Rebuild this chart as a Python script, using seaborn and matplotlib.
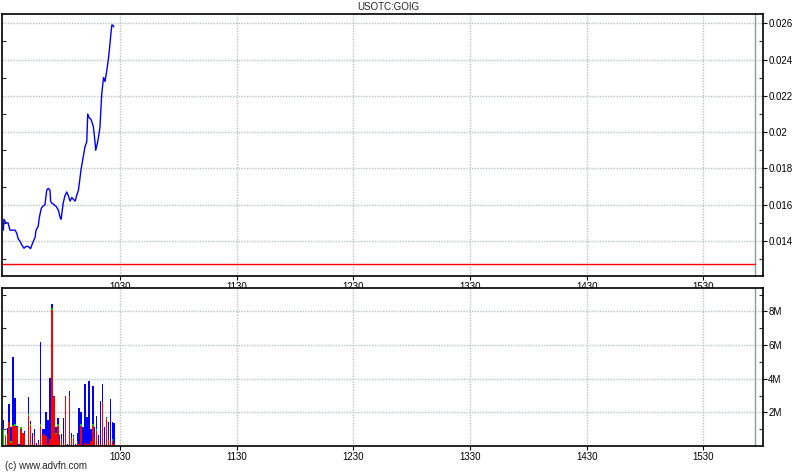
import matplotlib
matplotlib.use("Agg")
import matplotlib.pyplot as plt
from matplotlib.ticker import FixedLocator, FuncFormatter
import seaborn as sns

# intraday price, minutes after 09:30
price_minutes = [0.0, 0.3, 1.3, 2.4, 3.4, 6.0, 6.8, 7.7, 8.5, 9.4, 10.6, 11.6, 12.8, 14.0,
                 15.1, 16.3, 16.8, 17.9, 18.5, 19.5, 20.2, 21.4, 22.3, 23.1, 24.0, 24.3,
                 24.8, 26.1, 27.2, 28.3, 29.2, 29.7, 30.3, 30.8, 31.7, 32.6, 33.4, 34.3,
                 35.2, 36.0, 36.9, 37.7, 38.6, 39.1, 39.9, 41.1, 42.0, 42.9, 43.4, 44.1,
                 45.1, 46.3, 47.2, 47.5, 48.4, 49.2, 49.7, 50.6, 51.5, 52.0, 52.3, 53.2,
                 54.0, 54.5, 55.2, 55.8, 56.3, 56.8]
prices = [0.0146, 0.0152, 0.0150, 0.0150, 0.0146, 0.0146, 0.01445, 0.0141, 0.0140, 0.0138,
          0.0136, 0.0137, 0.0137, 0.01358, 0.0139, 0.0142, 0.0146, 0.0148, 0.0153, 0.0158,
          0.0159, 0.0160, 0.0168, 0.0169, 0.0168, 0.0162, 0.0161, 0.0160, 0.0159, 0.0157,
          0.0153, 0.0152, 0.0157, 0.0161, 0.0165, 0.0167, 0.0165, 0.0162, 0.0164, 0.0163,
          0.0162, 0.0165, 0.0168, 0.0172, 0.0179, 0.01865, 0.0192, 0.01947, 0.0210, 0.0208,
          0.0207, 0.0203, 0.0194, 0.0190, 0.0194, 0.0199, 0.0203, 0.0221, 0.0230, 0.0229,
          0.0228, 0.0234, 0.0240, 0.0245, 0.0253, 0.0259, 0.0259, 0.0258]
prev_close = 0.01272

# one-minute volume (millions): total, red (down) and green parts
vol_minutes = list(range(58))
vol_total = [1.54, 0.65, 1.06, 2.49, 1.15, 5.3, 2.87, 1.2, 0.1, 1.15, 0.8, 0.88, 0.05, 2.93,
             1.48, 0.8, 1.0, 0.2, 0.38, 6.2, 1.0, 1.0, 2.0, 1.54, 4.06, 8.43, 3.0, 1.1,
             1.68, 0.65, 0.71, 1.68, 3.0, 0.1, 3.27, 0.75, 0.65, 0.1, 0.75, 2.28, 2.0, 1.15,
             3.68, 1.72, 3.88, 1.0, 3.56, 1.1, 1.8, 0.65, 2.67, 3.68, 1.1, 1.66, 1.4, 2.78,
             1.4, 1.35]
vol_red = [0.0, 0.55, 0.7, 1.4, 0.2, 1.17, 1.2, 1.1, 0.0, 1.0, 0.75, 0.7, 0.0, 1.8, 1.2, 0.1,
           0.6, 0.0, 0.2, 1.2, 0.6, 0.7, 0.6, 0.1, 0.4, 8.08, 2.9, 0.7, 1.2, 0.3, 0.4, 0.2,
           2.9, 0.0, 2.97, 0.5, 0.5, 0.0, 0.3, 0.1, 1.2, 0.0, 0.2, 0.1, 0.1, 0.3, 1.2, 0.5,
           0.9, 0.1, 0.1, 2.6, 0.1, 1.6, 0.4, 0.3, 0.3, 0.1]
vol_green = [1.0, 0.1, 0.0, 0.0, 0.1, 0.1, 0.1, 0.0, 0.0, 0.1, 0.0, 0.0, 0.0, 0.1, 0.1, 0.0,
             0.0, 0.0, 0.0, 0.1, 0.0, 0.0, 0.0, 0.0, 0.0, 0.1, 0.0, 0.1, 0.1, 0.0, 0.0, 0.0,
             0.0, 0.0, 0.0, 0.0, 0.1, 0.0, 0.0, 0.0, 0.1, 0.0, 0.0, 0.0, 0.0, 0.0, 0.1, 0.0,
             0.1, 0.0, 0.0, 0.0, 0.0, 0.1, 0.0, 0.0, 0.1, 0.0]

tick_minutes = [60, 120, 180, 240, 300, 360]
tick_labels = ["1030", "1130", "1230", "1330", "1430", "1530"]
price_ticks = [0.014, 0.016, 0.018, 0.020, 0.022, 0.024, 0.026]
vol_ticks = [2, 4, 6, 8]
close_minute = 386.5

sns.set_theme(style="white")
plt.rcParams['font.family'] = ['Liberation Sans', 'DejaVu Sans']

fig = plt.figure(figsize=(8, 4.75), dpi=100)
ax1 = fig.add_axes([0.0025, 0.4189, 0.9509, 0.5516])
ax2 = fig.add_axes([0.0025, 0.0611, 0.9509, 0.3326])

grid_col = '#b8c2c2'

# price panel
sns.lineplot(x=price_minutes, y=prices, ax=ax1, color='#0000ff', linewidth=1, estimator=None)
ax1.hlines(prev_close, -0.7, close_minute, color='red', linewidth=1, zorder=3)
ax1.set_ylim(0.01207, 0.02651)
ax1.yaxis.set_major_locator(FixedLocator(price_ticks))
ax1.yaxis.set_minor_locator(FixedLocator([0.013 + 0.001 * i for i in range(14)]))
ax1.yaxis.set_major_formatter(FuncFormatter(lambda v, p: f"{v:g}"))

# volume panel
blue_part = [t - r - g for t, r, g in zip(vol_total, vol_red, vol_green)]
green_base = vol_red
blue_base = [r + g for r, g in zip(vol_red, vol_green)]
bar_kw = dict(width=0.75, linewidth=0, antialiased=False)
ax2.bar(vol_minutes, vol_red, color='#ff0000', **bar_kw)
ax2.bar(vol_minutes, vol_green, bottom=green_base, color='#00cc00', **bar_kw)
ax2.bar(vol_minutes, blue_part, bottom=blue_base, color='#0000ff', **bar_kw)
ax2.set_ylim(0, 9.39)
ax2.yaxis.set_major_locator(FixedLocator(vol_ticks))
ax2.yaxis.set_minor_locator(FixedLocator([1, 3, 5, 7, 9]))
ax2.yaxis.set_major_formatter(FuncFormatter(lambda v, p: f"{v:g}M"))

for ax in (ax1, ax2):
    ax.set_xlim(-0.7, 390.6)
    ax.set_xticks(tick_minutes)
    ax.set_xticklabels(tick_labels)
    ax.axvline(close_minute, color='#8c9c9c', linewidth=1, zorder=1)
    ax.grid(True, which='major', color=grid_col, linewidth=1, linestyle=(0, (1, 1)))
    ax.set_axisbelow(True)
    ax.yaxis.tick_right()
    ax.tick_params(axis='y', which='major', direction='out', length=3, width=0.8,
                   labelsize=7, pad=1, colors='black', right=True, left=False)
    ax.tick_params(axis='y', which='minor', direction='in', length=3, width=0.8,
                   right=True, left=True)
    ax.tick_params(axis='x', which='major', direction='out', length=3, width=0.8,
                   labelsize=7, pad=1, colors='black', bottom=True)
    ax.set_xlabel("")
    ax.set_ylabel("")
    for s in ax.spines.values():
        s.set_color('black')
        s.set_linewidth(1.2)

fig.text(388 / 800, 1 - 7 / 475, "USOTC:GOIG", ha='center', va='center', fontsize=7)
fig.text(5 / 800, 1 - 466 / 475, "(c) www.advfn.com", ha='left', va='center', fontsize=7)

fig.savefig("out.png", dpi=100, facecolor='white')
